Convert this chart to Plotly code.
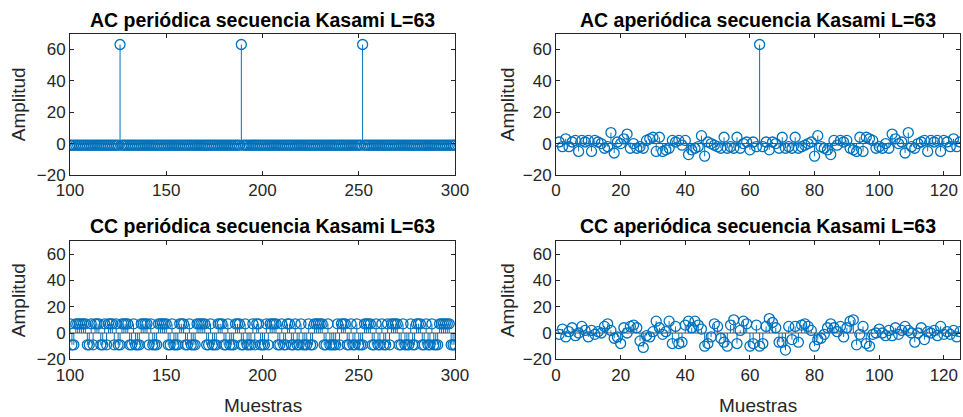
import plotly.graph_objects as go

W, H = 963, 417
BLUE = "#0072BD"
AXC = "#262626"
FONT = "Liberation Sans, Arial, Helvetica, sans-serif"

# ---------------- data ----------------
titles = ["AC periódica secuencia Kasami L=63", "AC aperiódica secuencia Kasami L=63",
          "CC periódica secuencia Kasami L=63", "CC aperiódica secuencia Kasami L=63"]

per_lags = list(range(100, 301))
ac_per = [63 if k in (126, 189, 252) else -1 for k in per_lags]

cc_per = [
    7, -9, -9, 7, 7, 7, 7, 7, 7, -9,
    -9, 7, -9, 7, 7, 7, -9, -9, 7, -9,
    7, 7, 7, -9, 7, -9, -9, 7, 7, 7,
    7, -9, -9, 7, -9, -9, -9, 7, 7, 7,
    7, -9, 7, -9, -9, -9, 7, 7, 7, 7,
    7, -9, -9, 7, -9, -9, -9, 7, 7, 7,
    -9, -9, 7, -9, -9, -9, 7, 7, 7, 7,
    7, -9, -9, 7, -9, -9, -9, 7, 7, 7,
    -9, -9, 7, -9, -9, -9, 7, 7, 7, -9,
    -9, 7, -9, -9, -9, 7, -9, 7, 7, -9,
    -9, -9, 7, -9, 7, 7, 7, 7, -9, -9,
    7, -9, -9, 7, 7, -9, -9, 7, -9, -9,
    7, -9, -9, -9, 7, -9, -9, 7, 7, 7,
    7, 7, -9, -9, 7, -9, -9, -9, -9, 7,
    -9, 7, 7, 7, -9, -9, 7, -9, -9, 7,
    -9, -9, -9, 7, 7, 7, 7, -9, -9, 7,
    -9, -9, 7, -9, -9, 7, -9, 7, 7, 7,
    7, -9, -9, 7, -9, -9, -9, 7, -9, -9,
    7, 7, 7, -9, -9, 7, -9, -9, 7, -9,
    -9, -9, 7, 7, 7, 7, 7, 7, -9, -9,
    -9,
]

aper_lags = list(range(1, 126))
ac_aper = [
    1, -2, 3, -2, 1, 2, -5, 2, 1, 2,
    -5, 2, 1, 0, -3, -2, 7, -6, 1, 0,
    3, 6, -3, 0, -3, -2, -3, 2, 3, 4,
    -5, 4, -5, -4, -3, 2, 1, 2, -1, 2,
    -7, -4, -3, -2, 5, -8, 1, 0, -1, -2,
    -3, 4, -3, -2, -3, 4, -3, 0, 1, -4,
    1, -2, 63, -2, 1, -4, 1, 0, -3, 4,
    -3, -2, -3, 4, -3, -2, -1, 0, 1, -8,
    5, -2, -3, -4, -7, 2, -1, 2, 1, 2,
    -3, -4, -5, 4, -5, 4, 3, 2, -3, -2,
    -3, 0, -3, 6, 3, 0, 1, -6, 7, -2,
    -3, 0, 1, 2, -5, 2, 1, 2, -5, 2,
    1, -2, 3, -2, 1,
]

cc_aper = [
    -1, 3, -3, 1, 4, -2, 0, 5, 2, -3,
    2, -1, 1, 0, 5, 7, 2, -4, -3, -8,
    4, 0, 5, 6, 4, -6, -11, -2, -3, 1,
    9, 4, -1, 1, 9, -8, 5, -8, -7, 6,
    9, 4, 9, 6, 3, -10, -8, -3, 7, 5,
    -4, -7, -10, 6, 10, -8, 2, 9, 7, -10,
    -8, 6, -10, -8, 5, 11, 8, 4, -7, -7,
    -13, 5, -5, 5, -7, 6, 7, 5, 2, -10,
    -5, -4, -1, 4, 7, 4, 1, 5, -3, 4,
    9, 10, -9, -1, 5, -8, -10, -1, 0, 3,
    0, -2, 2, -2, 4, -1, 2, 5, 2, 0,
    -7, 0, 4, -5, 1, 0, 2, -2, 5, -1,
    1, -1, 2, -3, 1,
]

xticks_per = [100, 150, 200, 250, 300]
xticks_aper = [0, 20, 40, 60, 80, 100, 120]
yticks = [-20, 0, 20, 40, 60]

# ---------------- layout geometry (pixels) ----------------
col_px = [(70, 455), (556, 960)]
row_px = [(33.5, 175), (241, 359.3)]

def px_x(p):
    return p / W

def px_y(p):
    return 1 - p / H

panels = [
    (0, 0, per_lags, ac_per, [100, 300], xticks_per),
    (0, 1, aper_lags, ac_aper, [0, 125], xticks_aper),
    (1, 0, per_lags, cc_per, [100, 300], xticks_per),
    (1, 1, aper_lags, cc_aper, [0, 125], xticks_aper),
]

fig = go.Figure()
layout = dict(
    width=W, height=H, margin=dict(l=0, r=0, t=0, b=0, autoexpand=False),
    paper_bgcolor="white", plot_bgcolor="white", showlegend=False,
    font=dict(family=FONT, size=17, color=AXC),
)
annotations = []

for i, (r, c, xs, ys, xr, xt) in enumerate(panels):
    n = i + 1
    xa = "x" if n == 1 else f"x{n}"
    ya = "y" if n == 1 else f"y{n}"
    # stems
    sx, sy = [], []
    for xv, yv in zip(xs, ys):
        sx += [xv, xv, None]
        sy += [0, yv, None]
    fig.add_trace(go.Scatter(x=sx, y=sy, mode="lines", line=dict(color=BLUE, width=1),
                             xaxis=xa, yaxis=ya, hoverinfo="skip"))
    # baseline
    fig.add_trace(go.Scatter(x=xr, y=[0, 0], mode="lines", line=dict(color="#4d4d4d", width=1),
                             xaxis=xa, yaxis=ya, hoverinfo="skip"))
    # markers
    fig.add_trace(go.Scatter(x=xs, y=ys, mode="markers",
                             marker=dict(symbol="circle-open", size=10, color=BLUE,
                                         line=dict(width=1.3, color=BLUE)),
                             xaxis=xa, yaxis=ya, cliponaxis=True))
    x0, x1 = col_px[c]
    y0, y1 = row_px[r]
    key_x = "xaxis" if n == 1 else f"xaxis{n}"
    key_y = "yaxis" if n == 1 else f"yaxis{n}"
    layout[key_x] = dict(domain=[px_x(x0), px_x(x1)], range=xr, anchor=ya, automargin=False,
                         tickvals=xt, ticks="inside", ticklen=4, tickcolor=AXC,
                         showline=True, linecolor=AXC, linewidth=1, mirror="ticks",
                         showgrid=False, zeroline=False,
                         tickfont=dict(family=FONT, size=17, color=AXC))
    layout[key_y] = dict(domain=[px_y(y1), px_y(y0)], range=[-20, 70], anchor=xa, automargin=False,
                         tickvals=yticks, ticks="inside", ticklen=4, tickcolor=AXC,
                         showline=True, linecolor=AXC, linewidth=1, mirror="ticks",
                         showgrid=False, zeroline=False,
                         tickfont=dict(family=FONT, size=17, color=AXC))
    # title
    annotations.append(dict(text=f"<b>{titles[i]}</b>", xref="paper", yref="paper",
                            x=px_x((x0 + x1) / 2), y=px_y(20 if r == 0 else 226),
                            xanchor="center", yanchor="middle", showarrow=False,
                            font=dict(family=FONT, size=19.5, color="black")))
    # y label
    annotations.append(dict(text="Amplitud", xref="paper", yref="paper",
                            x=px_x(18 if c == 0 else 507), y=px_y((y0 + y1) / 2),
                            xanchor="center", yanchor="middle", textangle=-90, showarrow=False,
                            font=dict(family=FONT, size=19, color=AXC)))
    if r == 1:
        annotations.append(dict(text="Muestras", xref="paper", yref="paper",
                                x=px_x((x0 + x1) / 2), y=px_y(405),
                                xanchor="center", yanchor="middle", showarrow=False,
                                font=dict(family=FONT, size=19, color=AXC)))

layout["annotations"] = annotations
fig.update_layout(**layout)
fig.write_html("out.html")
